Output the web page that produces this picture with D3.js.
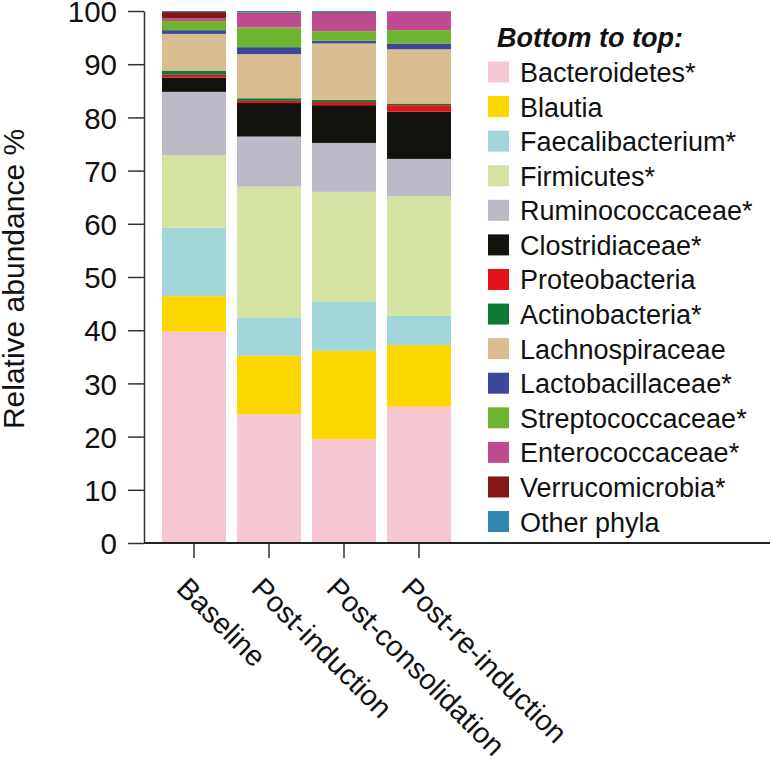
<!DOCTYPE html>
<html>
<head>
<meta charset="utf-8">
<script src="https://cdn.jsdelivr.net/npm/d3@7"></script>
<style>
  html, body { margin: 0; padding: 0; background: #fff; }
  svg { display: block; font-family: "Liberation Sans", Arial, Helvetica, sans-serif; }
</style>
</head>
<body>
<svg id="chart" width="772" height="764"></svg>
<script>
const categories = ["Baseline", "Post-induction", "Post-consolidation", "Post-re-induction"];
const taxa = ["Bacteroidetes*", "Blautia", "Faecalibacterium*", "Firmicutes*", "Ruminococcaceae*",
  "Clostridiaceae*", "Proteobacteria", "Actinobacteria*", "Lachnospiraceae", "Lactobacillaceae*",
  "Streptococcaceae*", "Enterococcaceae*", "Verrucomicrobia*", "Other phyla"];
const colors = ["#f7c6d3", "#ffd700", "#a3d6d8", "#d4e3a2", "#bdbac8",
  "#12110c", "#e3121b", "#0f7a36", "#d9bc8f", "#3d4898",
  "#6db52e", "#c04b90", "#861716", "#2f86b0"];

const bacteroidetes    = [39.7, 24.2, 19.5, 25.6];
const blautia          = [6.7, 11.0, 16.6, 11.6];
const faecalibacterium = [12.9, 7.2, 9.3, 5.5];
const firmicutes       = [13.6, 24.6, 20.6, 22.5];
const ruminococcaceae  = [11.9, 9.4, 9.2, 7.0];
const clostridiaceae   = [2.7, 6.3, 7.1, 8.9];
const proteobacteria   = [0.5, 0.4, 0.6, 1.2];
const actinobacteria   = [0.8, 0.5, 0.4, 0.3];
const lachnospiraceae  = [6.9, 8.3, 10.6, 10.2];
const lactobacillaceae = [0.7, 1.3, 0.5, 1.1];
const streptococcaceae = [1.7, 3.7, 1.8, 2.5];
const enterococcaceae  = [0.5, 2.6, 3.3, 3.5];
const verrucomicrobia  = [1.2, 0.2, 0.25, 0.05];
const otherPhyla       = [0.2, 0.3, 0.25, 0.05];
const yTicks = [0, 10, 20, 30, 40, 50, 60, 70, 80, 90, 100];

const series = [bacteroidetes, blautia, faecalibacterium, firmicutes, ruminococcaceae,
  clostridiaceae, proteobacteria, actinobacteria, lachnospiraceae, lactobacillaceae,
  streptococcaceae, enterococcaceae, verrucomicrobia, otherPhyla];

const table = categories.map((c, i) => {
  const row = { category: c };
  taxa.forEach((t, k) => row[t] = series[k][i]);
  return row;
});

const svg = d3.select("#chart");
const axisX0 = 144;
const x = d3.scaleBand().domain(categories).range([156.5, 456.5]).paddingInner(0.147).paddingOuter(0.0735);
const y = d3.scaleLinear().domain([0, 100]).range([543, 11]);
const color = d3.scaleOrdinal().domain(taxa).range(colors);

const stacked = d3.stack().keys(taxa)(table);

svg.append("g").selectAll("g")
  .data(stacked).join("g")
  .attr("fill", d => color(d.key))
  .selectAll("rect")
  .data(d => d).join("rect")
  .attr("x", d => x(d.data.category))
  .attr("width", x.bandwidth())
  .attr("y", d => y(d[1]))
  .attr("height", d => Math.max(0, y(d[0]) - y(d[1])));

// Y axis
const yAxis = svg.append("g").attr("transform", `translate(${axisX0},0)`)
  .call(d3.axisLeft(y).tickValues(yTicks).tickSize(16).tickPadding(11).tickSizeOuter(0));
yAxis.select(".domain").attr("stroke", "#333").attr("stroke-width", 1.5);
yAxis.selectAll(".tick line").attr("stroke", "#333").attr("stroke-width", 1.5);
yAxis.selectAll(".tick text").attr("font-size", 29.5).attr("fill", "#111")
  .attr("font-family", "Liberation Sans, Arial, sans-serif")
  .attr("dy", "0.36em");

// X axis
const xAxis = svg.append("g").attr("transform", `translate(0,${y(0)})`)
  .call(d3.axisBottom(x).tickSize(15).tickSizeOuter(0));
xAxis.select(".domain").remove();
xAxis.selectAll(".tick line").attr("stroke", "#333").attr("stroke-width", 1.5);
xAxis.selectAll(".tick text")
  .attr("font-size", 29).attr("fill", "#111")
  .attr("font-family", "Liberation Sans, Arial, sans-serif")
  .attr("text-anchor", "start")
  .attr("dy", null).attr("y", null)
  .attr("transform", "translate(-19,47) rotate(45)");
svg.append("line")
  .attr("x1", axisX0).attr("x2", 770)
  .attr("y1", y(0)).attr("y2", y(0))
  .attr("stroke", "#222").attr("stroke-width", 2);

// Y title
svg.append("text")
  .attr("transform", "translate(24,279) rotate(-90)")
  .attr("text-anchor", "middle")
  .attr("font-size", 30).attr("fill", "#111")
  .text("Relative abundance %");

// Legend
const legend = svg.append("g");
legend.append("text")
  .attr("x", 497).attr("y", 47)
  .attr("font-size", 27).attr("font-weight", "bold").attr("font-style", "italic")
  .attr("fill", "#111")
  .text("Bottom to top:");
const rowY = i => 72 + i * 34.58;
const items = legend.selectAll("g.item").data(taxa).join("g").attr("class", "item");
items.append("rect")
  .attr("x", 488).attr("y", (d, i) => rowY(i) - 10.5)
  .attr("width", 21).attr("height", 21)
  .attr("fill", d => color(d));
items.append("text")
  .attr("x", 520).attr("y", (d, i) => rowY(i) + 10)
  .attr("font-size", 27).attr("fill", "#111")
  .text(d => d);
</script>
</body>
</html>
